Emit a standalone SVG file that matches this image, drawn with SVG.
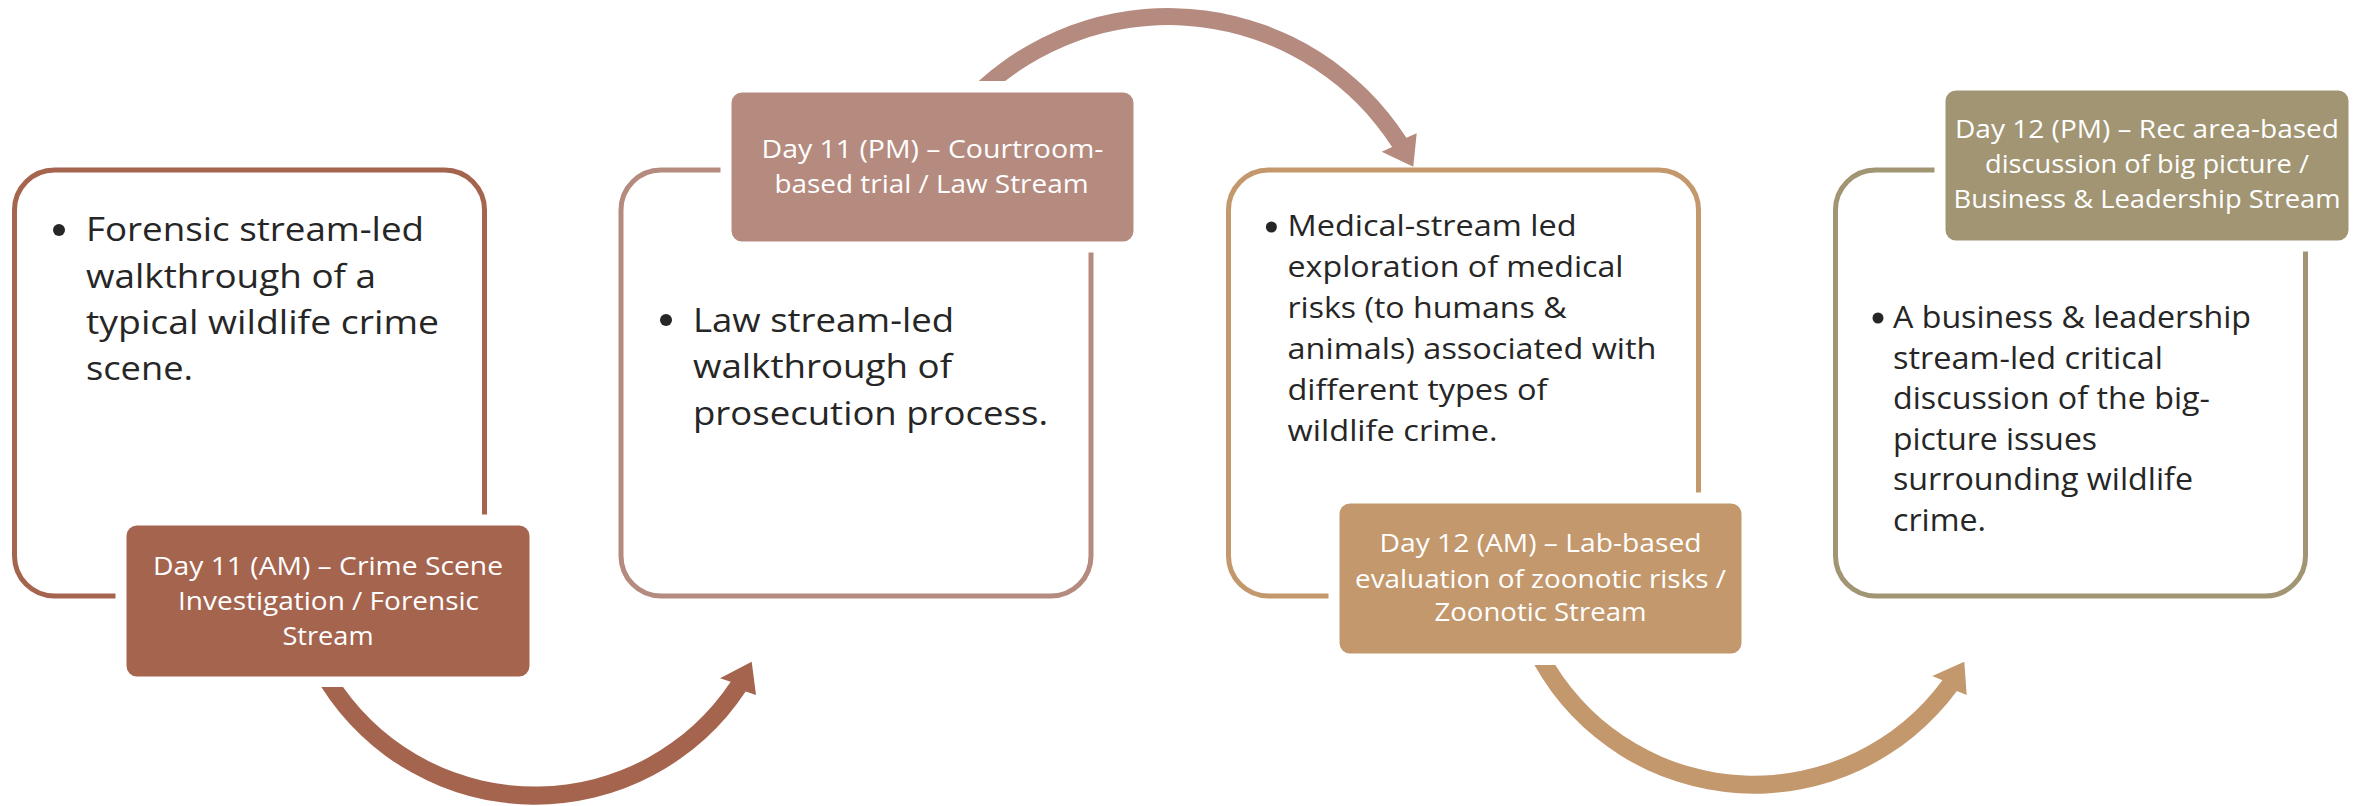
<svg xmlns="http://www.w3.org/2000/svg" width="2362" height="806" viewBox="0 0 2362 806">
<style>
.frame{fill:#fff;stroke-width:5}
.lab{stroke:#fff;stroke-width:11}
.lt{font-family:"Open Sans","Noto Sans","Liberation Sans",sans-serif;font-size:25.6px;fill:#fff;text-anchor:middle}
.bt{font-family:"Open Sans","Noto Sans","Liberation Sans",sans-serif;fill:#262626}
.b12{font-size:32.6px}
.b3{font-size:30px}
.b4{font-size:30.4px}
.dot{fill:#262626}
</style>
<rect width="2362" height="806" fill="#fff"/>
<g id="node1">
<rect class="frame" x="14.5" y="170" width="470" height="426" rx="40" stroke="#A5644E"/>
<circle class="dot" cx="59" cy="230" r="6"/>
<text class="bt b12" lengthAdjust="spacingAndGlyphs"><tspan x="86" y="241" textLength="338" lengthAdjust="spacingAndGlyphs">Forensic stream-led</tspan></text>
<text class="bt b12"><tspan x="86" y="287.5" textLength="290" lengthAdjust="spacingAndGlyphs">walkthrough of a</tspan></text>
<text class="bt b12"><tspan x="86" y="334" textLength="353" lengthAdjust="spacingAndGlyphs">typical wildlife crime</tspan></text>
<text class="bt b12"><tspan x="86" y="380" textLength="107" lengthAdjust="spacingAndGlyphs">scene.</tspan></text>
<rect class="lab" x="121" y="520" width="414" height="162" rx="16" fill="#A5644E"/>
<text class="lt" x="328" y="575" textLength="350" lengthAdjust="spacingAndGlyphs">Day 11 (AM) – Crime Scene</text>
<text class="lt" x="328.5" y="610" textLength="301" lengthAdjust="spacingAndGlyphs">Investigation / Forensic</text>
<text class="lt" x="328" y="645" textLength="91" lengthAdjust="spacingAndGlyphs">Stream</text>
</g>
<g id="node2">
<rect class="frame" x="621" y="170" width="470" height="426" rx="40" stroke="#B58B80"/>
<circle class="dot" cx="666" cy="320" r="6"/>
<text class="bt b12"><tspan x="693" y="332" textLength="261" lengthAdjust="spacingAndGlyphs">Law stream-led</tspan></text>
<text class="bt b12"><tspan x="693" y="378" textLength="259" lengthAdjust="spacingAndGlyphs">walkthrough of</tspan></text>
<text class="bt b12"><tspan x="693" y="425" textLength="355" lengthAdjust="spacingAndGlyphs">prosecution process.</tspan></text>
<rect class="lab" x="726" y="87" width="413" height="160" rx="16" fill="#B58B80"/>
<text class="lt" x="932.5" y="158" textLength="342" lengthAdjust="spacingAndGlyphs">Day 11 (PM) – Courtroom-</text>
<text class="lt" x="931.5" y="193" textLength="314" lengthAdjust="spacingAndGlyphs">based trial / Law Stream</text>
</g>
<g id="node3">
<rect class="frame" x="1228.5" y="170" width="470" height="426" rx="40" stroke="#C3986D"/>
<circle class="dot" cx="1271.4" cy="227" r="5.5"/>
<text class="bt b3"><tspan x="1287.5" y="236" textLength="289" lengthAdjust="spacingAndGlyphs">Medical-stream led</tspan></text>
<text class="bt b3"><tspan x="1287.5" y="277" textLength="336" lengthAdjust="spacingAndGlyphs">exploration of medical</tspan></text>
<text class="bt b3"><tspan x="1287.5" y="318" textLength="279" lengthAdjust="spacingAndGlyphs">risks (to humans &amp;</tspan></text>
<text class="bt b3"><tspan x="1287.5" y="359" textLength="369" lengthAdjust="spacingAndGlyphs">animals) associated with</tspan></text>
<text class="bt b3"><tspan x="1287.5" y="400" textLength="260" lengthAdjust="spacingAndGlyphs">different types of</tspan></text>
<text class="bt b3"><tspan x="1287.5" y="441" textLength="210" lengthAdjust="spacingAndGlyphs">wildlife crime.</tspan></text>
<rect class="lab" x="1334" y="498" width="413" height="161" rx="16" fill="#C3986D"/>
<text class="lt" x="1540.5" y="552" textLength="322" lengthAdjust="spacingAndGlyphs">Day 12 (AM) – Lab-based</text>
<text class="lt" x="1540.5" y="587.5" textLength="371" lengthAdjust="spacingAndGlyphs">evaluation of zoonotic risks /</text>
<text class="lt" x="1540.5" y="621" textLength="212" lengthAdjust="spacingAndGlyphs">Zoonotic Stream</text>
</g>
<g id="node4">
<rect class="frame" x="1835.5" y="170" width="470" height="426" rx="40" stroke="#A19574"/>
<circle class="dot" cx="1878" cy="318" r="5.5"/>
<text class="bt b4"><tspan x="1893" y="328" textLength="358" lengthAdjust="spacingAndGlyphs">A business &amp; leadership</tspan></text>
<text class="bt b4"><tspan x="1893" y="368.5" textLength="270" lengthAdjust="spacingAndGlyphs">stream-led critical</tspan></text>
<text class="bt b4"><tspan x="1893" y="409" textLength="317" lengthAdjust="spacingAndGlyphs">discussion of the big-</tspan></text>
<text class="bt b4"><tspan x="1893" y="449.5" textLength="204" lengthAdjust="spacingAndGlyphs">picture issues</tspan></text>
<text class="bt b4"><tspan x="1893" y="490" textLength="300" lengthAdjust="spacingAndGlyphs">surrounding wildlife</tspan></text>
<text class="bt b4"><tspan x="1893" y="530.5" textLength="93" lengthAdjust="spacingAndGlyphs">crime.</tspan></text>
<rect class="lab" x="1940" y="85" width="414" height="161" rx="16" fill="#A19574"/>
<text class="lt" x="2147" y="138" textLength="384" lengthAdjust="spacingAndGlyphs">Day 12 (PM) – Rec area-based</text>
<text class="lt" x="2147" y="173" textLength="324" lengthAdjust="spacingAndGlyphs">discussion of big picture /</text>
<text class="lt" x="2147" y="208" textLength="387" lengthAdjust="spacingAndGlyphs">Business &amp; Leadership Stream</text>
</g>
<g id="connectors">
<path id="arrow1" fill="#A5644E" d="M321.3,687 A252.9,252.9 0 0 0 745.7,691.6 L756,695 L751.7,661.7 L720,678.3 L730.7,681.7 A234.9,234.9 0 0 1 343,687 Z"/>
<path id="arrow2" fill="#B58B80" d="M978.7,81 A283.2,283.2 0 0 1 1406.4,137.8 L1416.7,133.3 L1413.3,166.7 L1381.7,151.7 L1392.1,147 A266.2,266.2 0 0 0 1005.2,81 Z"/>
<path id="arrow3" fill="#C3986D" d="M1534.4,665 A251.7,251.7 0 0 0 1956.9,690.9 L1966.7,695 L1964.3,661.7 L1932.3,676 L1942.4,680.3 A233.7,233.7 0 0 1 1555.3,665 Z"/>
</g>
</svg>
